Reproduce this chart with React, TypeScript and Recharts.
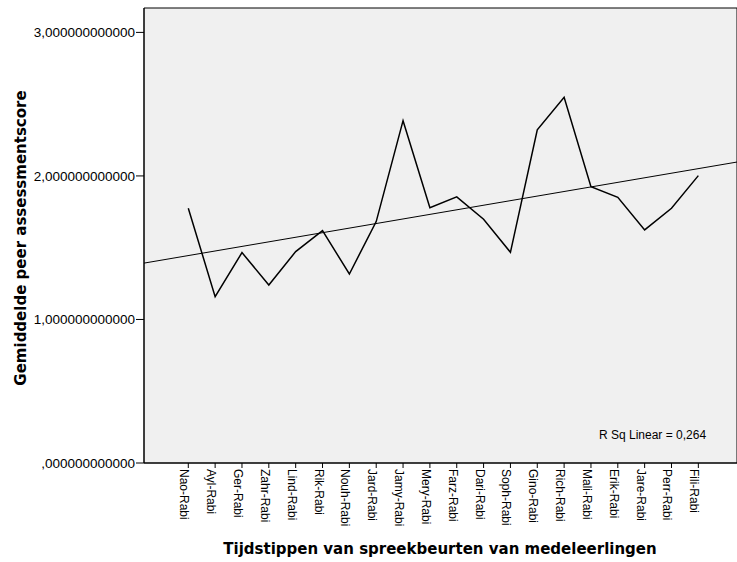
import React from "react";
import { LineChart, Line, XAxis, YAxis, ReferenceArea, ReferenceLine } from "recharts";

const categories = [
  "Nao-Rabi", "Ayl-Rabi", "Ger-Rabi", "Zahr-Rabi", "Lind-Rabi", "Rik-Rabi", "Nouh-Rabi",
  "Jard-Rabi", "Jamy-Rabi", "Mery-Rabi", "Farz-Rabi", "Dari-Rabi", "Soph-Rabi", "Gino-Rabi",
  "Rich-Rabi", "Mali-Rabi", "Erik-Rabi", "Jare-Rabi", "Perr-Rabi", "Fili-Rabi",
];
const scores = [
  1.775, 1.159, 1.466, 1.24, 1.473, 1.619, 1.317, 1.682, 2.385, 1.779,
  1.854, 1.698, 1.468, 2.321, 2.548, 1.925, 1.851, 1.624, 1.775, 2.002,
];
const yTicks = [0, 1, 2, 3];
const rSqLabel = "R Sq Linear = 0,264";
const xTitle = "Tijdstippen van spreekbeurten van medeleerlingen";
const yTitle = "Gemiddelde peer assessmentscore";

const X_MIN = -1.65;
const X_MAX = 20.44;
const Y_MAX = 3.17;

const data = categories.map((name, i) => ({ idx: i, name, score: scores[i] }));

// least-squares fit line
const n = scores.length;
const mx = data.reduce((s, d) => s + d.idx, 0) / n;
const my = scores.reduce((s, v) => s + v, 0) / n;
const sxy = data.reduce((s, d) => s + (d.idx - mx) * (d.score - my), 0);
const sxx = data.reduce((s, d) => s + (d.idx - mx) * (d.idx - mx), 0);
const slope = sxy / sxx;
const intercept = my - slope * mx;
const fitAt = (x: number) => intercept + slope * x;

const tickFont = "'Liberation Sans', Arial, sans-serif";
const titleFont = "'DejaVu Sans', Verdana, sans-serif";

const XTick = (props: any) => {
  const { x, y, payload } = props;
  return (
    <text
      x={x}
      y={y}
      dy={8}
      transform={`rotate(90, ${x}, ${y})`}
      textAnchor="start"
      fontSize={12}
      fontFamily={tickFont}
      fill="#000"
    >
      {categories[payload.value]}
    </text>
  );
};

const yFormat = (v: number) => (v === 0 ? ",000000000000" : `${v},000000000000`);

export default function App() {
  return (
    <div style={{ position: "absolute", left: 0, top: 0, width: 737, height: 562, background: "#fff" }}>
      <LineChart width={737} height={562} data={data} margin={{ top: 8, right: 0, bottom: 0, left: 0 }}>
        <XAxis
          type="number"
          dataKey="idx"
          domain={[X_MIN, X_MAX]}
          ticks={categories.map((_, i) => i)}
          interval={0}
          height={99}
          tickSize={5}
          tickMargin={1}
          tick={<XTick />}
          axisLine={{ stroke: "#000" }}
          tickLine={{ stroke: "#000" }}
          allowDataOverflow
        />
        <YAxis
          type="number"
          domain={[0, Y_MAX]}
          ticks={yTicks}
          width={144}
          tickSize={8}
          tickMargin={1}
          tickFormatter={yFormat}
          tick={{ fontSize: 13.5, fontFamily: tickFont, fill: "#000" }}
          axisLine={{ stroke: "#000" }}
          tickLine={{ stroke: "#000" }}
          allowDataOverflow
        />
        <ReferenceArea
          x1={X_MIN}
          x2={X_MAX}
          y1={0}
          y2={Y_MAX}
          fill="#f0f0f0"
          fillOpacity={1}
          stroke="#000"
          strokeWidth={1}
        />
        <ReferenceLine
          segment={[
            { x: X_MIN, y: fitAt(X_MIN) },
            { x: X_MAX, y: fitAt(X_MAX) },
          ]}
          stroke="#000"
          strokeWidth={1}
        />
        <Line
          type="linear"
          dataKey="score"
          stroke="#000"
          strokeWidth={1.5}
          dot={false}
          activeDot={false}
          isAnimationActive={false}
        />
      </LineChart>
      <div
        style={{
          position: "absolute",
          left: 599,
          top: 428,
          fontSize: 12,
          fontFamily: tickFont,
          color: "#000",
          whiteSpace: "nowrap",
        }}
      >
        {rSqLabel}
      </div>
      <div
        style={{
          position: "absolute",
          left: 440,
          top: 540,
          transform: "translateX(-50%)",
          fontSize: 15,
          fontWeight: "bold",
          fontFamily: titleFont,
          color: "#000",
          whiteSpace: "nowrap",
        }}
      >
        {xTitle}
      </div>
      <div
        style={{
          position: "absolute",
          left: 20.5,
          top: 238,
          transform: "translate(-50%, -50%) rotate(-90deg)",
          fontSize: 15,
          fontWeight: "bold",
          fontFamily: titleFont,
          color: "#000",
          whiteSpace: "nowrap",
        }}
      >
        {yTitle}
      </div>
    </div>
  );
}
